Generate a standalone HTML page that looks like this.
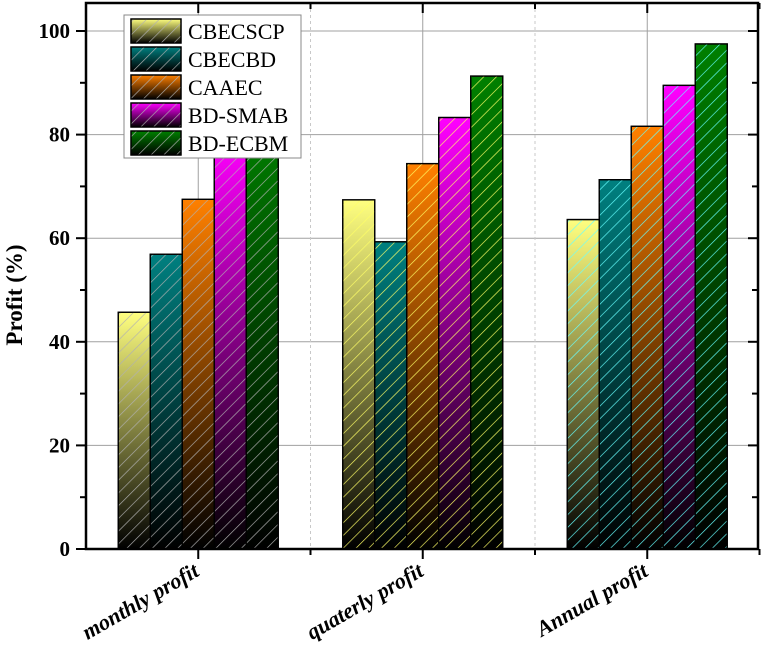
<!DOCTYPE html>
<html><head><meta charset="utf-8"><style>
html,body{margin:0;padding:0;background:#fff;}
svg{display:block;font-family:"Liberation Serif",serif;}
</style></head><body>
<svg id="chart" width="762" height="647" viewBox="0 0 762 647">
<defs id="defs"></defs>
<g id="grid"></g>
<g id="bars"></g>
<g id="axes"></g>
<text x="0" y="0" transform="translate(22,295) rotate(-90)" text-anchor="middle" font-size="23" font-weight="bold">Profit (%)</text>
<g id="legend"></g>
</svg>
<script>
const categories = ["monthly profit", "quaterly profit", "Annual profit"];
const seriesNames = ["CBECSCP", "CBECBD", "CAAEC", "BD-SMAB", "BD-ECBM"];
const cbecscp = [45.7, 67.4, 63.6];
const cbecbd = [56.9, 59.3, 71.3];
const caaec = [67.5, 74.4, 81.6];
const bdsmab = [79, 83.3, 89.5];
const bdecbm = [82, 91.3, 97.5];
const yTicks = [0, 20, 40, 60, 80, 100];
const seriesValues = [cbecscp, cbecbd, caaec, bdsmab, bdecbm];
const colors = ["#ffff80", "#008080", "#ff8000", "#ff00ff", "#008000"];
const hatchColors = ["#b0b0b0", "#ffff66", "#66ffff"];

const NS = "http://www.w3.org/2000/svg";
const X0 = 86, X1 = 758, Y0 = 549, YTOP = 3;
const yScale = v => Y0 - v * 5.18;
const catW = 224.5;
const xCenter = i => X0 + catW * (i + 0.5);
const barW = 32;
function el(tag, attrs, parent) { const e = document.createElementNS(NS, tag); for (const k in attrs) e.setAttribute(k, attrs[k]); parent.appendChild(e); return e; }
const defs = document.getElementById('defs');
colors.forEach((c, s) => {
  const g = el('linearGradient', {id: 'grad' + s, x1: 0, y1: 0, x2: 0, y2: 1}, defs);
  el('stop', {offset: 0, 'stop-color': c}, g);
  el('stop', {offset: 1, 'stop-color': '#000'}, g);
});
hatchColors.forEach((h, i) => {
  const p = el('pattern', {id: 'hatch' + i, width: 9, height: 9, patternUnits: 'userSpaceOnUse', patternTransform: 'rotate(45)'}, defs);
  el('line', {x1: 0, y1: 0, x2: 0, y2: 9, stroke: h, 'stroke-width': 1.3}, p);
});
const grid = document.getElementById('grid');
yTicks.forEach(t => { if (t > 0) el('line', {x1: X0, x2: X1, y1: yScale(t), y2: yScale(t), stroke: '#a0a0a0', 'stroke-width': 1}, grid); });
categories.forEach((c, i) => {
  const xc = xCenter(i);
  el('line', {x1: xc, x2: xc, y1: YTOP, y2: Y0, stroke: '#a0a0a0', 'stroke-width': 1}, grid);
  const xm = X0 + catW * (i + 1);
  if (i < 2) el('line', {x1: xm, x2: xm, y1: YTOP, y2: Y0, stroke: '#c8c8c8', 'stroke-width': 1, 'stroke-dasharray': '3,3'}, grid);
});
const barsG = document.getElementById('bars');
seriesValues.forEach((vals, s) => {
  vals.forEach((v, i) => {
    const x = xCenter(i) - 2.5 * barW + s * barW;
    const y = yScale(v);
    const r = el('rect', {x: x, y: y, width: barW, height: Y0 - y, fill: 'url(#grad' + s + ')', stroke: '#000', 'stroke-width': 1.3}, barsG);
    
    
    const h = el('rect', {x: x, y: y, width: barW, height: Y0 - y, fill: 'url(#hatch' + i + ')', stroke: '#000', 'stroke-width': 1.3}, barsG);
    
    
  });
});
const axes = document.getElementById('axes');
el('rect', {x: X0, y: YTOP, width: X1 - X0, height: Y0 - YTOP, fill: 'none', stroke: '#000', 'stroke-width': 2.5}, axes);
for (let v = 0; v <= 100; v += 10) {
  const y = yScale(v), major = v % 20 === 0;
  el('line', {x1: X0 - (major ? 10 : 6), x2: X0, y1: y, y2: y, stroke: '#000', 'stroke-width': 2}, axes);
  el('line', {x1: X1, x2: X1 - (major ? 10 : 6), y1: y, y2: y, stroke: '#000', 'stroke-width': 2}, axes);
}
yTicks.forEach(t => {
  const tx = el('text', {x: 70, y: yScale(t) + 7, 'text-anchor': 'end', 'font-size': 21, 'font-weight': 'bold'}, axes);
  tx.textContent = t;
  
  
});
categories.forEach((c, i) => {
  const xc = xCenter(i);
  el('line', {x1: xc, x2: xc, y1: Y0, y2: Y0 + 10, stroke: '#000', 'stroke-width': 2}, axes);
  el('line', {x1: xc, x2: xc, y1: YTOP, y2: YTOP + 10, stroke: '#000', 'stroke-width': 2}, axes);
  const xm = X0 + catW * (i + 1);
  el('line', {x1: xm, x2: xm, y1: Y0, y2: Y0 + 6, stroke: '#000', 'stroke-width': 2}, axes);
  el('line', {x1: xm, x2: xm, y1: YTOP, y2: YTOP + 6, stroke: '#000', 'stroke-width': 2}, axes);
  const tx = el('text', {x: 0, y: 0, transform: 'translate(' + (xc + 2) + ',575) rotate(-30)', 'text-anchor': 'end', 'font-size': 22, 'font-weight': 'bold', 'font-style': 'italic'}, axes);
  tx.textContent = c;
  
  
});
const leg = document.getElementById('legend');
el('rect', {x: 124, y: 15, width: 177, height: 143, fill: '#fff', stroke: '#888', 'stroke-width': 1}, leg);
seriesNames.forEach((n, s) => {
  const y = 19 + s * 28;
  const sw = el('rect', {x: 131, y: y, width: 50, height: 24, fill: 'url(#grad' + s + ')', stroke: '#000', 'stroke-width': 1.3}, leg);
  
  
  el('rect', {x: 131, y: y, width: 50, height: 24, fill: 'url(#hatch0)', stroke: '#000', 'stroke-width': 1.3}, leg);
  const t = el('text', {x: 188, y: y + 20, 'font-size': 22}, leg);
  t.textContent = n;
  
  
});
</script>
</body></html>
